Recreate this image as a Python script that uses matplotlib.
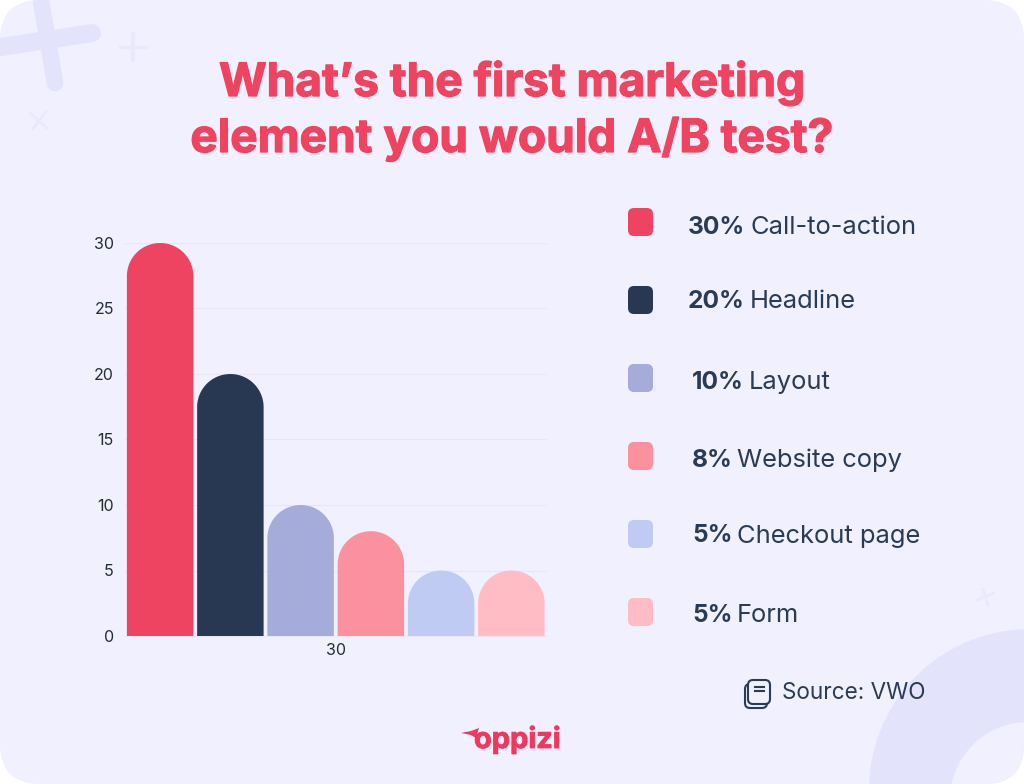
"""Bar chart with rounded tops: first marketing element people would A/B test."""

import matplotlib

matplotlib.use("Agg")
import matplotlib.patheffects as pe
import matplotlib.pyplot as plt
import numpy as np
from matplotlib.patches import Circle, FancyBboxPatch, Polygon

categories = ["Call-to-action", "Headline", "Layout", "Website copy", "Checkout page", "Form"]
values = [30, 20, 10, 8, 5, 5]
pct_labels = ["30%", "20%", "10%", "8%", "5%", "5%"]
colors = ["#EF4461", "#283853", "#A6ACD9", "#FB909F", "#BFCBF2", "#FFBCC4"]
y_ticks = [0, 5, 10, 15, 20, 25, 30]
x_label = "30"
title_lines = ["What’s the first marketing", "element you would A/B test?"]
source = "Source: VWO"

W, H = 1024, 784
BG = "#F0F0FE"
DECOR = "#E3E4FB"
DECOR_LIGHT = "#E8E9FB"
INK = "#2A3B57"
FONT = "Inter"


def px_text(ax, x, y, s, px, **kw):
    """Text placed in pixel coordinates, size given in pixels."""
    kw.setdefault("va", "center")
    kw.setdefault("family", FONT)
    return ax.text(x, y, s, fontsize=px * 0.72, **kw)


fig = plt.figure(figsize=(W / 100, H / 100), dpi=100, facecolor="white")

# background layer, in image pixels
bg = fig.add_axes([0, 0, 1, 1])
bg.set_xlim(0, W)
bg.set_ylim(H, 0)
bg.axis("off")
card = FancyBboxPatch((0, 0), W, H, boxstyle="round,pad=0,rounding_size=40", fc=BG, ec="none")
bg.add_patch(card)

for (x0, y0, x1, y1, lw, col) in [
    (-5, 48, 92, 33, 13, DECOR), (40, -5, 55, 83, 12, DECOR),
    (120, 47, 146, 47, 2.5, DECOR_LIGHT), (133, 34, 133, 60, 3, DECOR_LIGHT),
    (30, 113, 47, 128, 2, DECOR_LIGHT), (46, 112, 33, 129, 2, DECOR_LIGHT),
    (977, 600, 994, 593, 1.8, DECOR_LIGHT), (983, 589, 988, 606, 1.8, DECOR_LIGHT),
]:
    ln, = bg.plot([x0, x1], [y0, y1], color=col, lw=lw, solid_capstyle="round")
    ln.set_clip_path(card)

ring = Circle((1030, 790), 161, fc=DECOR, ec="none")
bg.add_patch(ring)
ring.set_clip_path(card)
hole = Circle((1028, 800), 78, fc=BG, ec="none")
bg.add_patch(hole)
hole.set_clip_path(card)

# title
for y, line in zip([83, 139], title_lines):
    t = px_text(bg, 512, y, line, 46, color="#F0435F", ha="center", fontweight="bold")
    t.set_path_effects([pe.withStroke(linewidth=0.9, foreground="#F0435F")])

# legend on the right
swatch_y = [222, 300, 378, 456, 534, 612]
text_y = [227, 301, 382, 460, 536, 616]
pct_x = [688, 688, 692, 692, 692, 692]
name_x = [750, 750, 749, 737, 737, 737]
for i, cat in enumerate(categories):
    bg.add_patch(FancyBboxPatch((628, swatch_y[i] - 14), 25, 28, boxstyle="round,pad=0,rounding_size=6",
                                fc=colors[i], ec="none"))
    px_text(bg, pct_x[i], text_y[i], pct_labels[i], 24.5, color=INK, fontweight="bold")
    px_text(bg, name_x[i], text_y[i], cat, 25.5, color=INK)

# source note and its icon
bg.add_patch(FancyBboxPatch((745, 684), 22, 24, boxstyle="round,pad=0,rounding_size=5", fc=BG, ec=INK, lw=1.5))
bg.add_patch(FancyBboxPatch((748, 680), 22, 24, boxstyle="round,pad=0,rounding_size=5", fc=BG, ec=INK, lw=1.5))
bg.plot([755, 764], [687, 687], color=INK, lw=1.5)
bg.plot([755, 764], [691, 691], color=INK, lw=1.5)
px_text(bg, 782, 693, source, 22.5, color=INK)

# logo
logo = px_text(bg, 474, 740, "oppizi", 29, color="#F0385F", fontweight="bold")
logo.set_path_effects([pe.withStroke(linewidth=0.6, foreground="#F0385F")])
bg.add_patch(Polygon([(461, 733), (471, 731), (479, 728), (476, 738), (471, 735)], fc="#F0385F", ec="none"))

# chart, drawn through its own scales
ax = fig.add_axes([125 / W, 1 - 636 / H, 421.5 / W, 393 / H], facecolor="none")
ax.set_xlim(0, len(values))
ax.set_ylim(0, 30)
bar_w = 0.946
r_y = 33 / 13.1
for i, (v, c) in enumerate(zip(values, colors)):
    cx = i + 0.5
    t = np.linspace(0, np.pi, 60)
    xs = np.r_[cx + bar_w / 2, cx + bar_w / 2 * np.cos(t), cx - bar_w / 2]
    ys = np.r_[0, v - r_y + r_y * np.sin(t), 0]
    ax.add_patch(Polygon(np.c_[xs, ys], closed=True, fc=c, ec="none", zorder=3))

ax.set_yticks(y_ticks)
ax.set_xticks([len(values) / 2])
ax.set_xticklabels([x_label])
ax.grid(True, axis="y", color="#E6E6F5", lw=0.8)
ax.set_axisbelow(True)
for side in ["top", "right", "left"]:
    ax.spines[side].set_visible(False)
ax.spines["bottom"].set_color("#E6E6F5")
ax.tick_params(length=0, labelsize=11.5, labelcolor="#222B3A", pad=5)
ax.tick_params(axis="y", pad=8)
for lab in ax.get_xticklabels() + ax.get_yticklabels():
    lab.set_family(FONT)

fig.savefig("out.png", dpi=100, facecolor="white")
